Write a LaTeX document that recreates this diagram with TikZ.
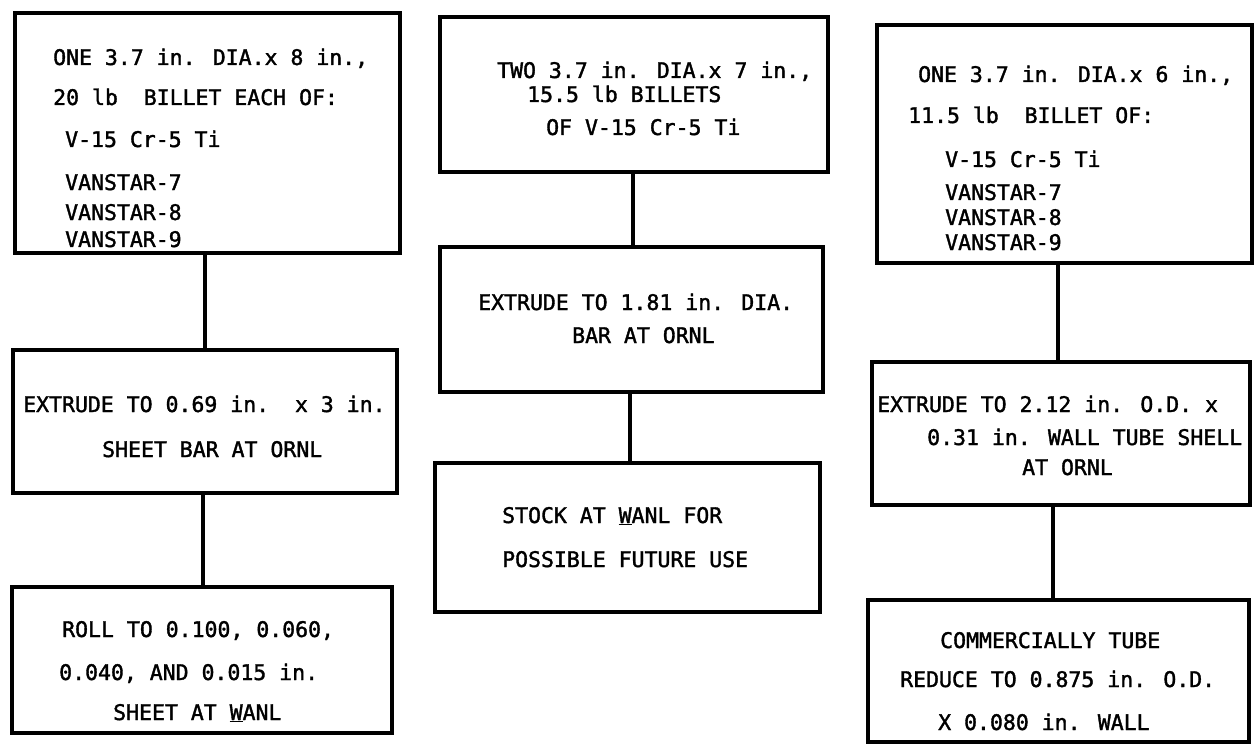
\documentclass[tikz,border=0pt]{standalone}
\usepackage{fontspec}
\newfontfamily\lett{DejaVu Sans Mono}[FakeBold=1.6]
\begin{document}
\begin{tikzpicture}[x=1pt,y=-1pt,
  flowbox/.style={draw=black,line width=4.5pt,rectangle,inner sep=0pt,minimum width=#1},
  conn/.style={draw=black,line width=4pt},
  lbl/.style={anchor=base west,inner sep=0pt,font=\lett\fontsize{21.5}{24}\selectfont}]
\useasboundingbox[fill=white] (0,0) rectangle (1254,749);
% boxes
\node[flowbox=385pt,minimum height=240pt] (L1) at (207.5,133) {};
\node[flowbox=384pt,minimum height=143pt] (L2) at (205,421.5) {};
\node[flowbox=380pt,minimum height=146pt] (L3) at (202,660) {};
\node[flowbox=388pt,minimum height=155pt] (M1) at (634,94.5) {};
\node[flowbox=383pt,minimum height=145pt] (M2) at (631.5,319.5) {};
\node[flowbox=385pt,minimum height=149pt] (M3) at (627.5,537.5) {};
\node[flowbox=375pt,minimum height=238pt] (R1) at (1064.5,144) {};
\node[flowbox=378pt,minimum height=143pt] (R2) at (1061,433.5) {};
\node[flowbox=381pt,minimum height=142pt] (R3) at (1058.5,671) {};
% connector columns
\coordinate (cL1) at (205,0);
\coordinate (cL2) at (203,0);
\coordinate (cM1) at (633,0);
\coordinate (cM2) at (630,0);
\coordinate (cR1) at (1058,0);
\coordinate (cR2) at (1053,0);
\draw[conn] (L1.south -| cL1) -- (L2.north -| cL1);
\draw[conn] (L2.south -| cL2) -- (L3.north -| cL2);
\draw[conn] (M1.south -| cM1) -- (M2.north -| cM1);
\draw[conn] (M2.south -| cM2) -- (M3.north -| cM2);
\draw[conn] (R1.south -| cR1) -- (R2.north -| cR1);
\draw[conn] (R2.south -| cR2) -- (R3.north -| cR2);
% left column texts
\node[lbl] (tL1a) at (53,65) {ONE 3.7 in. DIA.x 8 in.,};
\node[lbl] (tL1b) at (53,105) {20 lb~~BILLET EACH OF:};
\node[lbl] (tL1c) at (65,147) {V-15 Cr-5 Ti};
\node[lbl] (tL1d) at (65,190) {VANSTAR-7};
\node[lbl] (tL1e) at (65,220) {VANSTAR-8};
\node[lbl] (tL1f) at (65,247) {VANSTAR-9};
\node[lbl] (tL2a) at (23,412) {EXTRUDE TO 0.69 in.~~x 3 in.};
\node[lbl] (tL2b) at (102,457) {SHEET BAR AT ORNL};
\node[lbl] (tL3a) at (62,637) {ROLL TO 0.100, 0.060,};
\node[lbl] (tL3b) at (59,680) {0.040, AND 0.015 in.};
\node[lbl] (tL3c) at (113,720) {SHEET AT \underline{W}ANL};
% middle column texts
\node[lbl] (tM1a) at (497,78) {TWO 3.7 in. DIA.x 7 in.,};
\node[lbl] (tM1b) at (527,102) {15.5 lb BILLETS};
\node[lbl] (tM1c) at (546,135) {OF V-15 Cr-5 Ti};
\node[lbl] (tM2a) at (478,310) {EXTRUDE TO 1.81 in. DIA.};
\node[lbl] (tM2b) at (572,343) {BAR AT ORNL};
\node[lbl] (tM3a) at (502,523) {STOCK AT \underline{W}ANL FOR};
\node[lbl] (tM3b) at (502,567) {POSSIBLE FUTURE USE};
% right column texts
\node[lbl] (tR1a) at (918,82) {ONE 3.7 in. DIA.x 6 in.,};
\node[lbl] (tR1b) at (908,123) {11.5 lb~~BILLET OF:};
\node[lbl] (tR1c) at (945,167) {V-15 Cr-5 Ti};
\node[lbl] (tR1d) at (945,200) {VANSTAR-7};
\node[lbl] (tR1e) at (945,225) {VANSTAR-8};
\node[lbl] (tR1f) at (945,250) {VANSTAR-9};
\node[lbl] (tR2a) at (877,412) {EXTRUDE TO 2.12 in. O.D. x};
\node[lbl] (tR2b) at (927,445) {0.31 in. WALL TUBE SHELL};
\node[lbl] (tR2c) at (1022,475) {AT ORNL};
\node[lbl] (tR3a) at (940,648) {COMMERCIALLY TUBE};
\node[lbl] (tR3b) at (900,687) {REDUCE TO 0.875 in. O.D.};
\node[lbl] (tR3c) at (938,730) {X 0.080 in. WALL};
\end{tikzpicture}
\end{document}
